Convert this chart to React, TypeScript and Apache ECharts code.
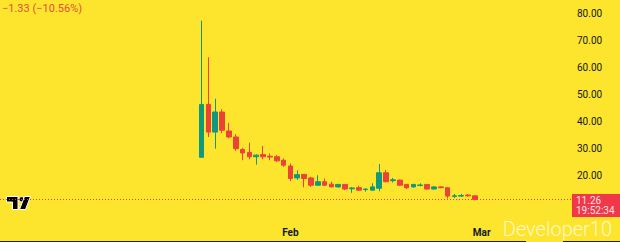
import React, { useEffect, useRef } from "react";
import * as echarts from "echarts";

// daily candles, first one on 2025-01-19
const firstDay = "2025-01-19";
const opens = [26.8, 46.3, 36.1, 43.5, 36.5, 34.3, 29.7, 28.6, 27.0, 27.8, 27.2, 27.0, 25.7, 23.6, 19.2, 20.5, 19.2, 16.5, 17.8, 16.9, 15.9, 16.8, 15.2, 15.6, 14.9, 14.7, 15.4, 21.1, 18.2, 18.4, 16.8, 15.9, 16.4, 16.8, 15.1, 15.9, 15.6, 12.4, 12.5, 12.9, 12.59];
const closes = [46.3, 36.1, 43.5, 36.8, 34.3, 30.0, 28.4, 27.0, 27.6, 27.0, 26.9, 25.5, 23.9, 19.0, 20.4, 19.0, 16.5, 17.8, 16.5, 15.9, 16.8, 15.1, 15.5, 14.7, 15.1, 15.9, 21.1, 17.8, 18.5, 16.5, 15.6, 16.8, 16.6, 15.1, 15.9, 15.6, 12.5, 12.6, 12.7, 12.6, 11.26];
const lows = [26.8, 34.3, 30.0, 35.7, 33.8, 29.2, 25.7, 26.1, 24.1, 26.1, 25.7, 25.1, 23.3, 18.0, 18.5, 15.7, 15.9, 16.3, 16.3, 15.7, 15.6, 14.7, 13.7, 14.5, 14.1, 14.5, 14.3, 17.6, 17.5, 16.2, 15.1, 15.6, 16.1, 14.9, 14.9, 15.4, 11.6, 11.8, 12.2, 12.2, 10.9];
const highs = [77.2, 63.7, 48.4, 44.5, 39.5, 35.3, 30.3, 32.2, 27.9, 31.0, 28.2, 27.6, 26.4, 24.5, 22.0, 20.6, 19.6, 20.2, 19.0, 17.8, 17.0, 16.9, 15.8, 16.2, 15.3, 17.2, 24.3, 22.1, 19.2, 18.6, 17.0, 17.0, 17.2, 17.0, 16.1, 16.1, 15.8, 13.3, 13.3, 13.1, 12.7];

// visible time range of the axis
const axisStart = "2024-12-21";
const axisDays = 84;
const monthTicks: Record<string, string> = { "2025-02-01": "Feb", "2025-03-01": "Mar" };
const yTicks = [20, 30, 40, 50, 60, 70, 80];

const changeText = "\u22121.33 (\u221210.56%)";
const countdown = "19:52:34";
const watermark = "Developer10";

const UP = "#0e9a7c";
const DOWN = "#ec4338";

function dayStr(d: Date) {
  return d.toISOString().slice(0, 10);
}

export default function App() {
  const ref = useRef<HTMLDivElement>(null);
  useEffect(() => {
    if (!ref.current) return;
    const chart = echarts.init(ref.current, undefined, { renderer: "svg" });
    const start = new Date(axisStart + "T00:00:00Z");
    const cats: string[] = [];
    for (let i = 0; i < axisDays; i++) {
      cats.push(dayStr(new Date(start.getTime() + i * 86400000)));
    }
    const firstIdx = cats.indexOf(firstDay);
    const data: any[] = cats.map(() => "-");
    opens.forEach((o, i) => {
      data[firstIdx + i] = [o, closes[i], lows[i], highs[i]];
    });
    const last = closes[closes.length - 1];
    chart.setOption({
      animation: false,
      backgroundColor: "#fde52e",
      grid: { left: 0, right: 46, top: 0, bottom: 12 },
      xAxis: {
        type: "category",
        data: cats,
        boundaryGap: true,
        axisLine: { show: false },
        axisTick: { show: false },
        splitLine: { show: false },
        axisLabel: {
          interval: (_i: number, v: string) => !!monthTicks[v],
          formatter: (v: string) => monthTicks[v] || "",
          color: "#131722",
          fontSize: 10,
          fontWeight: "bold",
          fontFamily: "Roboto",
          margin: -3,
        },
      },
      yAxis: {
        type: "value",
        position: "right",
        min: 0,
        max: 84.8,
        interval: 10,
        axisLine: { show: false },
        axisTick: { show: false },
        splitLine: { show: false },
        axisLabel: {
          showMinLabel: false,
          formatter: (v: number) => (yTicks.includes(v) ? v.toFixed(2) : ""),
          color: "#131722",
          fontSize: 10,
          fontFamily: "Roboto",
          margin: 3,
        },
      },
      series: [
        {
          type: "candlestick",
          data,
          barWidth: "76%",
          itemStyle: {
            color: UP,
            color0: DOWN,
            borderColor: UP,
            borderColor0: DOWN,
            borderWidth: 1,
          },
          markLine: {
            silent: true,
            symbol: "none",
            data: [{ yAxis: last }],
            lineStyle: { type: [1, 2], color: "#f23645", width: 1 },
            label: {
              show: true,
              position: "end",
              distance: -2,
              offset: [0, 6],
              formatter: last.toFixed(2) + "\n" + countdown,
              backgroundColor: "#f0384a",
              color: "#ffe3e6",
              fontSize: 10,
              lineHeight: 10,
              fontFamily: "Roboto",
              padding: [2, 6, 1, 4],
            },
          },
        },
      ],
      graphic: [
        {
          type: "text",
          left: 2,
          top: 3,
          style: { text: changeText, fill: "#e4513a", fontSize: 11, fontFamily: "Roboto" },
        },
        {
          type: "polygon",
          shape: { points: [[6.5, 196.5], [18, 196.5], [18, 209.5], [12.5, 209.5], [12.5, 202], [6.5, 202]] },
          style: { fill: "#000", stroke: "#fff", lineWidth: 1 },
        },
        {
          type: "circle",
          shape: { cx: 21.5, cy: 199.3, r: 2.6 },
          style: { fill: "#000", stroke: "#fff", lineWidth: 1 },
        },
        {
          type: "polygon",
          shape: { points: [[24.5, 196.5], [30.5, 196.5], [25.5, 209.5], [19.5, 209.5]] },
          style: { fill: "#000", stroke: "#fff", lineWidth: 1 },
        },
        {
          type: "text",
          right: 8,
          bottom: 3,
          style: {
            text: watermark,
            fill: "rgba(255,255,255,0.75)",
            fontSize: 20,
            fontFamily: "Roboto",
            fontWeight: 300,
          },
        },
        { type: "rect", shape: { x: 0, y: 241, width: 526, height: 1 }, style: { fill: "#222" } },
        { type: "rect", shape: { x: 563, y: 241, width: 57, height: 1 }, style: { fill: "#222" } },
      ],
    });
    return () => chart.dispose();
  }, []);
  return (
    <div
      ref={ref}
      style={{ position: "fixed", left: 0, top: 0, width: 620, height: 242 }}
    />
  );
}
